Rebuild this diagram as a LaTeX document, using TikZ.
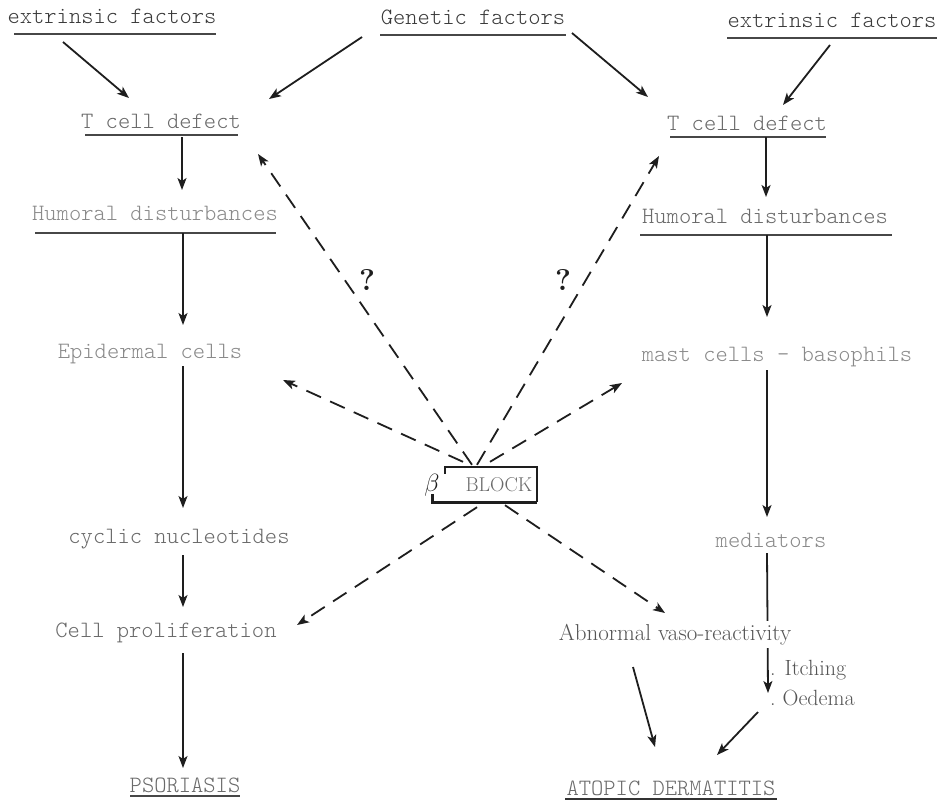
\documentclass[tikz,border=0pt]{standalone}
\usepackage{fontspec}
\setmonofont{Latin Modern Mono Light}
\usetikzlibrary{arrows.meta,calc}
\definecolor{ink}{HTML}{1E1E1E}
\definecolor{txtA}{HTML}{3A3A3A}
\definecolor{txtB}{HTML}{6A6A6A}
\definecolor{txtC}{HTML}{8A8A8A}
\definecolor{txtD}{HTML}{555555}
\newcommand\tfont{\ttfamily\fontsize{23.4}{28}\selectfont}
\newcommand\rfont{\rmfamily\fontsize{23}{27}\selectfont\addfontfeature{LetterSpace=8}}
\newcommand\sfontsm{\rmfamily\fontsize{22}{26}\selectfont}
\begin{document}
\begin{tikzpicture}[x=1pt,y=-1pt,
  tt/.style={font=\tfont, inner sep=0pt, anchor=base},
  rm/.style={font=\rfont, inner sep=0pt, anchor=base},
  arr/.style={draw=ink, line width=1.8pt, -{Stealth[length=12pt,width=9pt,inset=3pt]}},
  darr/.style={arr, dash pattern=on 16pt off 10pt},
  uline/.style={draw=black!72, line width=1.3pt},
  qmark/.style={font=\bfseries\rmfamily\fontsize{30}{32}\selectfont, text=ink, inner sep=0pt}]
\fill[white] (0,0) rectangle (941,801);
\useasboundingbox (0,0) rectangle (941,801);

% top row
\node[tt, text=txtA] (eL)  at (112,23) {extrinsic factors};
\node[tt, text=txtA] (gen) at (473,24) {Genetic factors};
\node[tt, text=txtA] (eR)  at (832,27) {extrinsic factors};
\draw[uline] (14,34) -- (216,34);
\draw[uline] (380,35) -- (566,35);
\draw[uline] (727,38) -- (937,38);

% left column
\node[tt, text=txtB] (tL)   at (161,128) {T cell defect};
\node[tt, text=txtC] (hL)   at (155,220) {Humoral disturbances};
\node[tt, text=txtC] (epid) at (150,358) {Epidermal cells};
\node[tt, text=txtB] (cyc)  at (179,543) {cyclic nucleotides};
\node[tt, text=txtB] (cp)   at (166,637) {Cell proliferation};
\node[tt, text=txtB] (pso)  at (185,792) {PSORIASIS};
\draw[uline] (85,135) -- (238,135);
\draw[uline] (35,233) -- (276,233);
\draw[uline] (130,796) -- (240,796);

% right column
\node[tt, text=txtB] (tR)   at (747,130) {T cell defect};
\node[tt, text=txtB] (hR)   at (765,223) {Humoral disturbances};
\node[tt, text=txtC] (mast) at (777,361) {mast cells - basophils};
\node[tt, text=txtC] (med)  at (771,547) {mediators};
\node[font=\sfontsm, text=txtD, inner sep=0pt, anchor=base west] (itch) at (770,675) {.\hspace{9pt}Itching};
\node[font=\sfontsm, text=txtD, inner sep=0pt, anchor=base west] (oed)  at (770,705) {.\hspace{7pt}Oedema};
\node[tt, text=txtB] (atopic) at (671,795) {ATOPIC DERMATITIS};
\draw[uline] (670,137) -- (826,137);
\draw[uline] (640,235) -- (892,235);
\draw[draw=black!80, line width=2.2pt] (565,799) -- (777,799);

% mediators -> oedema passes behind the vaso-reactivity label
\draw[arr] ($(med.base)+(-4,6)$) -- ($(oed.base west)+(-2,-12)$);
\node[rm, text=txtD, fill=white, inner xsep=2pt, inner ysep=3pt] (abn) at (675,640) {Abnormal vaso-reactivity};

% beta block
\node[inner sep=0pt, minimum width=92pt, minimum height=35pt] (blk) at (491,484.5) {};
\node[font=\rmfamily\fontsize{20}{24}\selectfont\addfontfeature{LetterSpace=6}, text=txtB, inner sep=0pt] (blktxt) at (499,485) {BLOCK};
\node[inner sep=0pt, text=ink] (beta) at (432,485) {\fontsize{34}{36}\selectfont$\beta$};
\draw[draw=ink, line width=1.8pt] ($(blk.north west)+(0,7)$) -- (blk.north west) -- (blk.north east) -- (blk.south east);
\draw[draw=ink, line width=2.8pt] (blk.south east) -- ($(blk.south west)+(-12,0)$) -- ($(blk.south west)+(-12,-8)$);

% solid arrows
\draw[arr] ($(eL.base)+(-49,19)$)   -- ($(tL.base)+(-32,-30)$);
\draw[arr] ($(gen.base)+(-111,13)$) -- ($(tL.base)+(108,-29)$);
\draw[arr] ($(gen.base)+(99,9)$)    -- ($(tR.base)+(-99,-33)$);
\draw[arr] ($(eR.base)+(-2,18)$)    -- ($(tR.base)+(36,-25)$);
\draw[arr] ($(tL.base)+(21,9)$)     -- ($(hL.base)+(27,-30)$);
\draw[arr] ($(tR.base)+(19,7)$)     -- ($(hR.base)+(1,-26)$);
\draw[arr] ($(hL.base)+(28,13)$)    -- ($(epid.base)+(33,-33)$);
\draw[arr] ($(hR.base)+(2,12)$)     -- ($(mast.base)+(-10,-44)$);
\draw[arr] ($(epid.base)+(33,8)$)   -- ($(cyc.base)+(4,-35)$);
\draw[arr] ($(cyc.base)+(4,12)$)    -- ($(cp.base)+(17,-30)$);
\draw[arr] ($(cp.base)+(17,16)$)    -- ($(pso.base)+(-2,-24)$);
\draw[arr] ($(mast.base)+(-10,9)$)  -- ($(med.base)+(-4,-30)$);
\draw[arr] ($(abn.base)+(-42,27)$)  -- ($(atopic.base)+(-16,-48)$);
\draw[arr] ($(oed.base west)+(-12,7)$) -- ($(atopic.base)+(46,-40)$);

% dashed arrows from the beta block
\draw[darr] ($(blk.north)+(-19,-2)$) -- ($(tL.base)+(97,26)$);
\draw[darr] ($(blk.north)+(-14,-2)$) -- ($(tR.base)+(-88,26)$);
\draw[darr] ($(blk.north)+(-28,-5)$) -- ($(epid.base)+(133,22)$);
\draw[darr] ($(blk.north)+(-1,-5)$)  -- ($(mast.base)+(-155,22)$);
\draw[darr] ($(blk.south)+(-14,5)$)  -- ($(cp.base)+(131,-12)$);
\draw[darr] ($(blk.south)+(14,3)$)   -- ($(abn.base)+(-10,-27)$);

\node[qmark] (q1) at (367,280) {?};
\node[qmark] (q2) at (563,280) {?};
\end{tikzpicture}
\end{document}
